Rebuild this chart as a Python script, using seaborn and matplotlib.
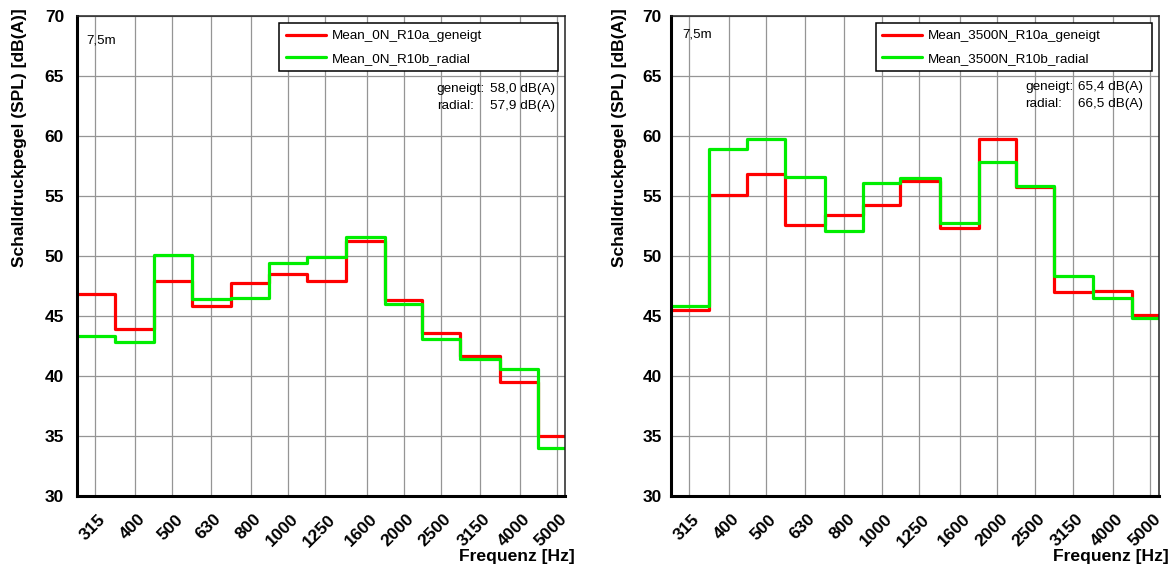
import numpy as np
import pandas as pd
import matplotlib
matplotlib.use("Agg")
import matplotlib.pyplot as plt
import matplotlib.ticker as mticker
from matplotlib.transforms import ScaledTranslation
import seaborn as sns

# ---------------- data ----------------
freqs = [315, 400, 500, 630, 800, 1000, 1250, 1600, 2000, 2500, 3150, 4000, 5000]
tick_labels = ["315", "400", "500", "630", "800", "1000", "1250", "1600",
               "2000", "2500", "3150", "4000", "5000"]

left_geneigt = [46.8, 43.9, 47.9, 45.8, 47.7, 48.5, 47.9, 51.2, 46.3, 43.6, 41.7, 39.5, 35.0]
left_radial = [43.3, 42.8, 50.05, 46.4, 46.5, 49.4, 49.9, 51.55, 46.0, 43.1, 41.4, 40.6, 34.0]
right_geneigt = [45.5, 55.1, 56.8, 52.6, 53.4, 54.2, 56.2, 52.3, 59.7, 55.7, 47.0, 47.05, 45.1]
right_radial = [45.85, 58.9, 59.7, 56.6, 52.1, 56.1, 56.45, 52.75, 57.8, 55.8, 48.3, 46.45, 44.8]

left_names = ["Mean_0N_R10a_geneigt", "Mean_0N_R10b_radial"]
right_names = ["Mean_3500N_R10a_geneigt", "Mean_3500N_R10b_radial"]
total_labels = ["geneigt:", "radial:"]
left_totals = ["58,0 dB(A)", "57,9 dB(A)"]
right_totals = ["65,4 dB(A)", "66,5 dB(A)"]
distance_label = "7,5m"
ylabel = "Schalldruckpegel (SPL) [dB(A)]"
xlabel = "Frequenz [Hz]"

series_colors = ["#ff0000", "#00ee00"]

# ---------------- style ----------------
sns.set_style("white")
plt.rcParams["font.family"] = ["Liberation Sans", "DejaVu Sans"]
plt.rcParams["text.color"] = "black"
plt.rcParams["axes.labelcolor"] = "black"
plt.rcParams["xtick.color"] = "black"
plt.rcParams["ytick.color"] = "black"

XMIN, XMAX = 283, 5260
YMIN, YMAX = 30, 70


def band_edges(f):
    f = np.asarray(f, float)
    inner = np.sqrt(f[:-1] * f[1:])
    return np.concatenate([[XMIN], inner, [XMAX]])


def long_df(names, series):
    edges = band_edges(freqs)
    rows = []
    for name, vals in zip(names, series):
        y = list(vals) + [vals[-1]]
        for x, v in zip(edges, y):
            rows.append((name, x, v))
    return pd.DataFrame(rows, columns=["series", "freq", "level"])


fig = plt.figure(figsize=(11.74, 5.67), dpi=100)


def panel(rect, names, series, totals, cfg):
    ax = fig.add_axes(rect)
    df = long_df(names, series)
    sns.lineplot(data=df, x="freq", y="level", hue="series", hue_order=names,
                 palette=dict(zip(names, series_colors)), drawstyle="steps-post",
                 estimator=None, sort=False, linewidth=2.3, ax=ax, legend=True)
    ax.set_xscale("log")
    ax.set_xlim(XMIN, XMAX)
    ax.set_ylim(YMIN, YMAX)

    ax.xaxis.set_major_locator(mticker.FixedLocator(freqs))
    ax.xaxis.set_major_formatter(mticker.FixedFormatter(tick_labels))
    ax.xaxis.set_minor_locator(mticker.NullLocator())
    ax.yaxis.set_major_locator(mticker.MultipleLocator(5))
    ax.yaxis.set_minor_locator(mticker.MultipleLocator(1))

    ax.set_axisbelow(True)
    ax.grid(True, which="major", color="#959595", linewidth=0.9)

    for side in ["left", "bottom"]:
        ax.spines[side].set_linewidth(2.2)
        ax.spines[side].set_color("black")
    for side in ["top", "right"]:
        ax.spines[side].set_linewidth(1.1)
        ax.spines[side].set_color("#222222")

    ax.tick_params(axis="x", which="major", direction="inout", length=10, width=1.4,
                   color="black", pad=cfg["xpad"], labelsize=12.5)
    ax.tick_params(axis="y", which="major", direction="inout", length=10, width=1.4,
                   color="black", pad=cfg["ypad"], labelsize=12.5)
    ax.tick_params(axis="y", which="minor", direction="inout", length=5.5, width=1.2,
                   color="black")
    for lab in ax.get_yticklabels():
        lab.set_fontweight("bold")
    off = ScaledTranslation(8 / 100, 0, fig.dpi_scale_trans)
    for lab in ax.get_xticklabels():
        lab.set_fontweight("bold")
        lab.set_rotation(45)
        lab.set_rotation_mode("anchor")
        lab.set_ha("right")
        lab.set_va("center")
        lab.set_transform(lab.get_transform() + off)

    ax.set_ylabel(ylabel, fontsize=12.5, fontweight="bold", loc="top")
    ax.yaxis.set_label_coords(cfg["ylab_x"], 1.0154)
    ax.set_xlabel(xlabel, fontsize=12.6, fontweight="bold", ha="right", va="center")
    ax.xaxis.set_label_coords(cfg["xlab_x"], -0.125)

    handles, labels = ax.get_legend_handles_labels()
    leg = ax.legend(handles, labels, loc="upper left",
                    bbox_to_anchor=(cfg["leg_x0"], 0, 0.9857 - cfg["leg_x0"], 0.9842),
                    mode="expand", borderaxespad=0, fontsize=9.7, frameon=True,
                    fancybox=False, edgecolor="black", framealpha=1,
                    borderpad=0.5, labelspacing=0.72, handlelength=2.95,
                    handletextpad=0.45)
    leg.get_frame().set_linewidth(1.1)
    for h in leg.get_lines():
        h.set_linewidth(2.3)

    ax.text(cfg["dist"][0], cfg["dist"][1], distance_label, transform=ax.transAxes,
            fontsize=9.6, ha="left", va="center")
    for i, (lbl, val) in enumerate(zip(total_labels, totals)):
        y = cfg["tot_y"][i]
        ax.text(cfg["tot_x"][0], y, lbl, transform=ax.transAxes, fontsize=9.7,
                ha="left", va="center")
        ax.text(cfg["tot_x"][1], y, val, transform=ax.transAxes, fontsize=9.7,
                ha="left", va="center")
    return ax


panel([0.0658, 0.1252, 0.4157, 0.8471], left_names, [left_geneigt, left_radial],
      left_totals,
      dict(xpad=10, ypad=4.5, ylab_x=-0.103, xlab_x=1.0199, leg_x0=0.414,
           dist=(0.0193, 0.948), tot_x=(0.7365, 0.8457), tot_y=(0.8474, 0.8126)))
panel([0.5716, 0.1252, 0.4154, 0.8471], right_names, [right_geneigt, right_radial],
      right_totals,
      dict(xpad=10, ypad=1.7, ylab_x=-0.09, xlab_x=1.0205, leg_x0=0.4197,
           dist=(0.0232, 0.9613), tot_x=(0.7259, 0.8339), tot_y=(0.8509, 0.8155)))

fig.savefig("out.png", dpi=100)
